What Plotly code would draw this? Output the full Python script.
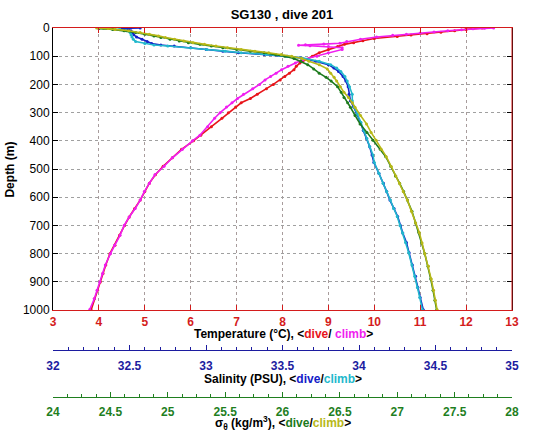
import plotly.graph_objects as go

# ---------------- data ----------------
# Temperature (deg C) -- dive / climb
depth_temp_dive = [0, 2, 5, 10, 15, 20, 25, 30, 37, 45, 52, 58, 66, 76, 88, 100, 112, 124, 136, 148,
                   160, 172, 184, 200, 215, 235, 250, 265, 280, 300, 320, 350, 380, 400, 430, 460, 490, 520, 550, 580,
                   610, 640, 670, 700, 735, 770, 800, 840, 870, 900, 930, 960, 1000]
temp_dive = [12.35, 12.15, 12.0, 11.75, 11.45, 11.15, 10.8, 10.5, 10.0, 9.75, 9.55, 9.35, 9.2, 9.0, 8.8, 8.65, 8.5, 8.38, 8.3, 8.25,
             8.15, 8.05, 7.95, 7.8, 7.65, 7.45, 7.3, 7.1, 6.98, 6.82, 6.68, 6.45, 6.22, 6.06, 5.8, 5.6, 5.4, 5.23, 5.1, 5.0,
             4.9, 4.78, 4.66, 4.56, 4.45, 4.35, 4.24, 4.15, 4.09, 4.03, 3.97, 3.9, 3.83]

depth_temp_climb = [0, 1, 3, 6, 10, 14, 18, 22, 26, 32, 40, 48, 54, 57, 59, 61, 63, 66, 70, 76,
                    88, 100, 112, 124, 136, 148, 160, 172, 184, 200, 215, 235, 250, 265, 280, 300, 320, 350, 380, 400,
                    430, 460, 490, 520, 550, 580, 610, 640, 670, 700, 735, 770, 800, 840, 870, 900, 930, 960, 998]
temp_climb = [12.6, 12.4, 12.15, 11.9, 11.6, 11.3, 11.0, 10.7, 10.4, 10.05, 9.7, 9.4, 9.25, 8.9, 8.5, 8.35, 8.6, 9.0, 9.3, 9.3,
              9.0, 8.75, 8.45, 8.28, 8.12, 7.98, 7.86, 7.74, 7.62, 7.5, 7.35, 7.15, 7.02, 6.9, 6.78, 6.64, 6.52, 6.37, 6.2, 6.04,
              5.82, 5.6, 5.42, 5.22, 5.1, 4.99, 4.9, 4.79, 4.66, 4.55, 4.46, 4.34, 4.25, 4.14, 4.08, 4.02, 3.96, 3.9, 3.8]

# Salinity (PSU) -- dive / climb
depth_sal = [0, 2, 5, 10, 16, 24, 32, 40, 48, 55, 60, 64, 70, 76, 82, 88, 94, 100, 106, 118,
             130, 142, 154, 172, 188, 208, 235, 258, 280, 305, 335, 363, 392, 421, 450, 477, 515, 550, 580, 610,
             640, 668, 700, 727, 760, 797, 840, 880, 920, 955, 1000]
sal_dive = [32.57, 32.45, 32.495, 32.51, 32.519, 32.528, 32.546, 32.582, 32.615, 32.645, 32.705, 32.792, 32.9, 33.002, 33.11, 33.212, 33.38, 33.53, 33.62, 33.716,
            33.8, 33.836, 33.866, 33.896, 33.914, 33.929, 33.935, 33.944, 33.965, 33.986, 34.01, 34.028, 34.049, 34.07, 34.085, 34.097, 34.13, 34.16, 34.181, 34.202,
            34.229, 34.253, 34.271, 34.286, 34.31, 34.328, 34.349, 34.37, 34.385, 34.4, 34.421]
sal_climb = [32.36, 32.3, 32.435, 32.48, 32.504, 32.51, 32.516, 32.525, 32.54, 32.6, 32.66, 32.75, 32.9, 33.005, 33.125, 33.23, 33.395, 33.53, 33.626, 33.74,
             33.815, 33.854, 33.881, 33.908, 33.923, 33.938, 33.956, 33.956, 33.968, 33.989, 34.013, 34.031, 34.052, 34.07, 34.091, 34.1, 34.13, 34.157, 34.181, 34.205,
             34.226, 34.25, 34.268, 34.286, 34.304, 34.325, 34.346, 34.364, 34.382, 34.397, 34.415]

# Potential density sigma-theta (kg/m3) -- dive / climb
depth_sig = [0, 2, 5, 10, 16, 22, 28, 34, 40, 46, 52, 58, 64, 70, 76, 82, 88, 94, 100, 108,
             118, 130, 145, 160, 175, 188, 208, 228, 246, 265, 281, 310, 340, 370, 398, 430, 456, 491, 525, 550,
             580, 610, 650, 691, 725, 762, 800, 845, 890, 930, 965, 1000]
sig_dive = [24.44, 24.4, 24.52, 24.62, 24.72, 24.8, 24.88, 24.94, 25.02, 25.1, 25.18, 25.28, 25.38, 25.48, 25.6, 25.72, 25.84, 25.94, 26.02, 26.1,
            26.16, 26.22, 26.272, 26.32, 26.38, 26.424, 26.48, 26.512, 26.536, 26.568, 26.592, 26.632, 26.676, 26.736, 26.788, 26.852, 26.9, 26.944, 26.984, 27.02,
            27.056, 27.088, 27.128, 27.16, 27.188, 27.212, 27.24, 27.268, 27.292, 27.312, 27.328, 27.344]
sig_climb = [24.38, 24.48, 24.54, 24.66, 24.76, 24.84, 24.92, 24.98, 25.06, 25.14, 25.22, 25.32, 25.42, 25.52, 25.64, 25.76, 25.88, 25.99, 26.08, 26.17,
             26.23, 26.32, 26.39, 26.42, 26.45, 26.472, 26.504, 26.536, 26.575, 26.61, 26.632, 26.68, 26.732, 26.772, 26.816, 26.86, 26.904, 26.948, 26.988, 27.02,
             27.052, 27.088, 27.124, 27.16, 27.192, 27.216, 27.24, 27.272, 27.296, 27.316, 27.332, 27.348]

depth_ticks = [0, 100, 200, 300, 400, 500, 600, 700, 800, 900, 1000]
temp_range = [3, 13]
sal_range = [32, 35]
sig_range = [24, 28]

# ---------------- styling ----------------
FONT = "Liberation Sans, Arial, Helvetica, sans-serif"
C_TEMP_AX = "#d41c1c"
C_SAL_AX = "#1c1ca0"
C_SIG_AX = "#1f7f1f"
C_RED = "#e8141a"
C_MAG = "#f01ef0"
C_BLUE = "#1420c8"
C_CYAN = "#22b8cc"
C_GREEN = "#1c7a1c"
C_YEL = "#b8b818"


def trace(x, y, color, xaxis):
    return go.Scatter(x=x, y=y, xaxis=xaxis, yaxis="y", mode="lines+markers",
                      line=dict(color=color, width=1.6),
                      marker=dict(color=color, size=3),
                      showlegend=False, hoverinfo="skip")


fig = go.Figure()
fig.add_trace(trace(temp_dive, depth_temp_dive, C_RED, "x"))
fig.add_trace(trace(temp_climb, depth_temp_climb, C_MAG, "x"))
fig.add_trace(trace(sal_dive, depth_sal, C_BLUE, "x2"))
fig.add_trace(trace(sal_climb, depth_sal, C_CYAN, "x2"))
fig.add_trace(trace(sig_dive, depth_sig, C_GREEN, "x3"))
fig.add_trace(trace(sig_climb, depth_sig, C_YEL, "x3"))

W, H = 543, 442
ML, MR, MT, MB = 53, 31, 28, 4
PH = H - MT - MB
PW = W - ML - MR


def py(ref_pix):
    """pixel row -> paper y"""
    return (H - MB - ref_pix) / PH


def px(ref_pix):
    """pixel column -> paper x"""
    return (ref_pix - ML) / PW


B = dict(tickprefix="<b>", ticksuffix="</b>")

fig.update_layout(
    width=W, height=H,
    margin=dict(l=ML, r=MR, t=MT, b=MB),
    paper_bgcolor="white", plot_bgcolor="white",
    font=dict(family=FONT, size=12, color="black"),
    title=dict(text="<b>SG130 , dive 201</b>", x=282 / W, xanchor="center",
               y=1 - 14 / H, yanchor="middle", font=dict(size=13, family=FONT, color="black")),
    xaxis=dict(range=temp_range, dtick=1, domain=[0, 1], anchor="y",
               showline=True, linecolor=C_TEMP_AX, linewidth=1, mirror="ticks",
               ticks="inside", ticklen=5, tickcolor=C_TEMP_AX,
               tickfont=dict(family=FONT, size=12, color=C_TEMP_AX),
               showgrid=True, gridcolor="#a89c9c", griddash="dot", gridwidth=1,
               zeroline=False, **B),
    xaxis2=dict(range=sal_range, dtick=0.5, overlaying="x", anchor="free", position=py(356), side="bottom",
                showline=True, linecolor=C_SAL_AX, linewidth=1,
                ticks="inside", ticklen=5, tickcolor=C_SAL_AX,
                minor=dict(dtick=0.1, ticks="inside", ticklen=3, tickcolor=C_SAL_AX),
                tickfont=dict(family=FONT, size=12, color=C_SAL_AX),
                ticklabelstandoff=4,
                showgrid=False, zeroline=False, **B),
    xaxis3=dict(range=sig_range, dtick=0.5, overlaying="x", anchor="free", position=py(403), side="bottom",
                showline=True, linecolor=C_SIG_AX, linewidth=1,
                ticks="inside", ticklen=5, tickcolor=C_SIG_AX,
                minor=dict(dtick=0.125, ticks="inside", ticklen=3, tickcolor=C_SIG_AX),
                tickfont=dict(family=FONT, size=12, color=C_SIG_AX),
                ticklabelstandoff=4,
                showgrid=False, zeroline=False, **B),
    yaxis=dict(range=[1000, 0], tickvals=depth_ticks, domain=[py(315), 1], anchor="x",
               showline=True, linecolor="black", linewidth=1, mirror="ticks",
               ticks="inside", ticklen=5, tickcolor="black",
               tickfont=dict(family=FONT, size=12, color="black"),
               showgrid=True, gridcolor="#a0a0a0", griddash="dot", gridwidth=1,
               zeroline=False, **B),
)

# right border in red (temperature axes box)
fig.add_shape(type="line", xref="x domain", yref="y domain", x0=1, x1=1, y0=0, y1=1,
              line=dict(color=C_TEMP_AX, width=1))

# axis titles
ann_font = dict(family=FONT, size=12, color="black")
fig.add_annotation(text="<b>Depth (m)</b>", textangle=-90, xref="paper", yref="paper",
                   x=px(10), y=py(172), xanchor="center", yanchor="middle",
                   showarrow=False, font=ann_font)
fig.add_annotation(text="<b>Temperature (°C), &lt;<span style='color:%s'>dive</span>/ "
                        "<span style='color:%s'>climb</span>&gt;</b>" % (C_RED, C_MAG),
                   xref="paper", yref="paper", x=px(283), y=py(339), xanchor="center", yanchor="middle",
                   showarrow=False, font=ann_font)
fig.add_annotation(text="<b>Salinity (PSU), &lt;<span style='color:%s'>dive</span>/"
                        "<span style='color:%s'>climb</span>&gt;</b>" % (C_BLUE, C_CYAN),
                   xref="paper", yref="paper", x=px(283), y=py(385), xanchor="center", yanchor="middle",
                   showarrow=False, font=ann_font)
fig.add_annotation(text="<b>σ<sub>θ</sub> (kg/m<sup>3</sup>), &lt;<span style='color:%s'>dive</span>/"
                        "<span style='color:%s'>climb</span>&gt;</b>" % (C_GREEN, C_YEL),
                   xref="paper", yref="paper", x=px(283), y=py(430), xanchor="center", yanchor="middle",
                   showarrow=False, font=ann_font)

fig.write_html("out.html", config={"displayModeBar": False},
               post_script="document.body.style.margin='0';document.body.style.overflow='hidden';")
